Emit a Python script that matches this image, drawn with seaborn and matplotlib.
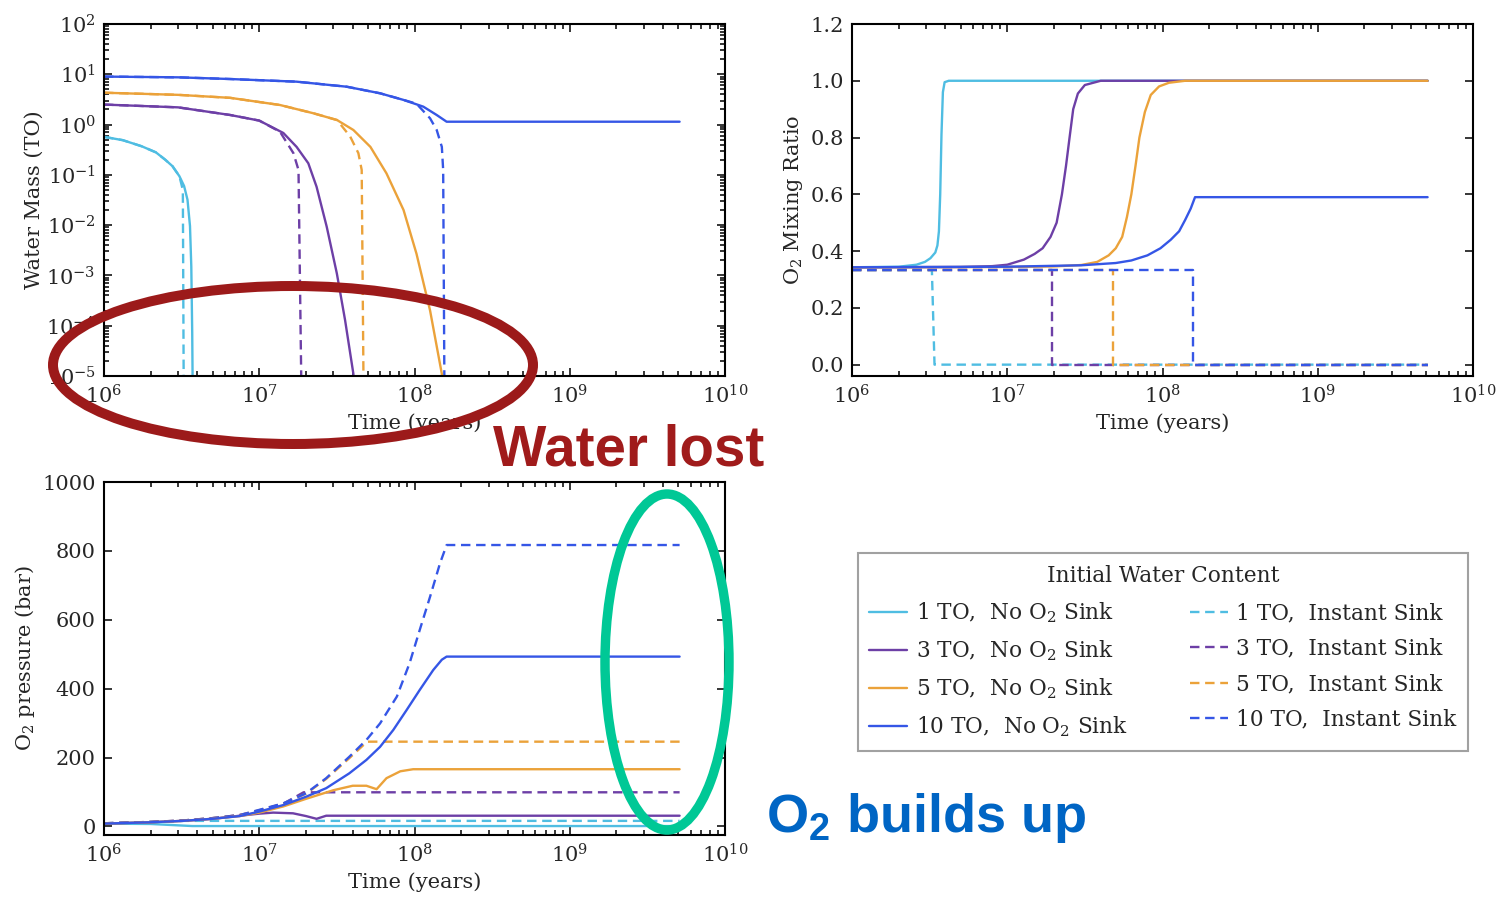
import numpy as np
import pandas as pd
import matplotlib
matplotlib.use("Agg")
import matplotlib.pyplot as plt
import matplotlib.ticker as mticker
from matplotlib.patches import Ellipse
import seaborn as sns

# ---------------- data ----------------
labels_water = ["1 TO", "3 TO", "5 TO", "10 TO"]
colors = ["#4FBDE2", "#6D3FA6", "#EBA23A", "#3556E6"]

# Panel 1: Water mass (TO), no O2 sink (solid)
wm_t_1 = [1e6, 1.32e6, 1.75e6, 2.16e6, 2.48e6, 2.76e6, 3.06e6, 3.28e6, 3.45e6, 3.58e6, 3.65e6, 3.7e6, 3.72e6, 3.73e6]
wm_y_1 = [0.57, 0.49, 0.37, 0.28, 0.20, 0.149, 0.094, 0.06, 0.032, 9.6e-3, 1.5e-3, 7.3e-5, 1e-5, 1e-7]
wm_t_3 = [1e6, 3e6, 6.5e6, 1e7, 1.43e7, 1.74e7, 2.07e7, 2.34e7, 2.72e7, 3.16e7, 3.57e7, 4.04e7, 4.1e7]
wm_y_3 = [2.5, 2.2, 1.55, 1.2, 0.68, 0.36, 0.17, 0.058, 9.3e-3, 1.1e-3, 1.3e-4, 1.1e-5, 1e-7]
wm_t_5 = [1e6, 3e6, 6.5e6, 1.36e7, 2.23e7, 3.17e7, 4.04e7, 5.2e7, 6.6e7, 8.5e7, 1.03e8, 1.26e8, 1.5e8, 1.52e8]
wm_y_5 = [4.3, 3.9, 3.4, 2.45, 1.68, 1.23, 0.78, 0.36, 0.107, 0.02, 2.7e-3, 2.0e-4, 1.1e-5, 1e-7]
wm_t_10 = [1e6, 3e6, 6.5e6, 1.74e7, 3.66e7, 6e7, 8.5e7, 1.14e8, 1.39e8, 1.61e8, 5.1e9]
wm_y_10 = [9.0, 8.7, 8.05, 7.13, 5.66, 4.19, 3.09, 2.27, 1.55, 1.14, 1.14]
# Panel 1: Water mass (TO), instant sink (dashed)
wmd_t_1 = [1e6, 1.32e6, 1.75e6, 2.16e6, 2.48e6, 2.76e6, 3.06e6, 3.22e6, 3.28e6]
wmd_y_1 = [0.57, 0.49, 0.37, 0.28, 0.20, 0.149, 0.094, 0.05, 1e-7]
wmd_t_3 = [1e6, 3e6, 6.5e6, 1e7, 1.36e7, 1.66e7, 1.79e7, 1.9e7]
wmd_y_3 = [2.5, 2.2, 1.55, 1.2, 0.72, 0.27, 0.125, 1e-7]
wmd_t_5 = [1e6, 3e6, 6.5e6, 1.36e7, 2.23e7, 3.17e7, 3.85e7, 4.35e7, 4.57e7, 4.75e7]
wmd_y_5 = [4.3, 3.9, 3.4, 2.45, 1.68, 1.23, 0.58, 0.27, 0.125, 1e-7]
wmd_t_10 = [1e6, 3e6, 6.5e6, 1.74e7, 3.66e7, 6e7, 8.5e7, 1.03e8, 1.26e8, 1.39e8, 1.5e8, 1.53e8, 1.57e8]
wmd_y_10 = [9.0, 8.7, 8.05, 7.13, 5.66, 4.19, 3.09, 2.6, 1.33, 0.78, 0.36, 0.125, 1e-7]

# Panel 2: O2 mixing ratio, no sink (solid)
mr_t_1 = [1e6, 2e6, 2.6e6, 2.95e6, 3.2e6, 3.44e6, 3.55e6, 3.63e6, 3.7e6, 3.77e6, 3.85e6, 3.95e6, 4.2e6, 5.1e9]
mr_y_1 = [0.343, 0.345, 0.352, 0.362, 0.375, 0.395, 0.42, 0.47, 0.6, 0.81, 0.96, 0.995, 1.0, 1.0]
mr_t_3 = [1e6, 5e6, 8e6, 1e7, 1.28e7, 1.5e7, 1.69e7, 1.9e7, 2.08e7, 2.25e7, 2.39e7, 2.52e7, 2.66e7, 2.85e7, 3.16e7, 4e7, 5.1e9]
mr_y_3 = [0.343, 0.344, 0.347, 0.352, 0.37, 0.39, 0.41, 0.45, 0.5, 0.6, 0.70, 0.8, 0.9, 0.955, 0.985, 1.0, 1.0]
mr_t_5 = [1e6, 1e7, 2e7, 3e7, 3.8e7, 4.5e7, 5e7, 5.5e7, 5.9e7, 6.3e7, 6.7e7, 7.1e7, 7.7e7, 8.4e7, 9.5e7, 1.1e8, 1.4e8, 5.1e9]
mr_y_5 = [0.343, 0.344, 0.346, 0.351, 0.362, 0.385, 0.41, 0.45, 0.52, 0.6, 0.7, 0.8, 0.89, 0.95, 0.98, 0.993, 1.0, 1.0]
mr_t_10 = [1e6, 1e7, 3e7, 5e7, 6.3e7, 8e7, 9.7e7, 1.13e8, 1.28e8, 1.4e8, 1.52e8, 1.62e8, 5.1e9]
mr_y_10 = [0.343, 0.345, 0.35, 0.358, 0.367, 0.385, 0.41, 0.44, 0.47, 0.51, 0.55, 0.59, 0.59]
# Panel 2: O2 mixing ratio, instant sink (dashed)
mrd_t_1 = [1e6, 3.27e6, 3.4e6, 5.1e9]
mrd_y_1 = [0.333, 0.333, 0.0, 0.0]
mrd_t_3 = [1e6, 1.94e7, 1.94e7, 5.1e9]
mrd_y_3 = [0.333, 0.333, 0.0, 0.0]
mrd_t_5 = [1e6, 4.8e7, 4.8e7, 5.1e9]
mrd_y_5 = [0.333, 0.333, 0.0, 0.0]
mrd_t_10 = [1e6, 1.57e8, 1.57e8, 5.1e9]
mrd_y_10 = [0.333, 0.333, 0.0, 0.0]

# Panel 3: O2 pressure (bar), no sink (solid)
pr_t_1 = [1e6, 2e6, 3.7e6, 5.1e9]
pr_y_1 = [8, 7, 1, 1]
pr_t_3 = [1e6, 2e6, 3.2e6, 5e6, 7.5e6, 1e7, 1.23e7, 1.65e7, 2e7, 2.34e7, 2.7e7, 5.1e9]
pr_y_3 = [8, 12, 16, 22, 31, 37, 40, 38, 30, 22, 31, 31]
pr_t_5 = [1e6, 2e6, 3.2e6, 5e6, 7.5e6, 1e7, 1.43e7, 2e7, 3e7, 4e7, 4.9e7, 5.7e7, 6.6e7, 8.1e7, 9.8e7, 5.1e9]
pr_y_5 = [8, 12, 16, 22, 30, 40, 58, 80, 105, 118, 118, 108, 140, 160, 166, 166]
pr_t_10 = [1e6, 2e6, 3.2e6, 5e6, 7.5e6, 1e7, 1.43e7, 2e7, 2.7e7, 3.8e7, 4.9e7, 6e7, 7.3e7, 8.9e7, 1.08e8, 1.32e8, 1.5e8, 1.61e8, 5.1e9]
pr_y_10 = [8, 12, 16, 22, 30, 43, 62, 86, 111, 154, 193, 231, 280, 338, 396, 454, 484, 493, 493]
# Panel 3: O2 pressure (bar), instant sink (dashed)
prd_t_1 = [1e6, 2e6, 3.3e6, 5.1e9]
prd_y_1 = [9, 13, 16, 16]
prd_t_3 = [1e6, 2e6, 3.2e6, 5e6, 7.5e6, 1e7, 1.43e7, 1.93e7, 5.1e9]
prd_y_3 = [9, 13, 17, 24, 33, 46, 66, 99, 99]
prd_t_5 = [1e6, 2e6, 3.2e6, 5e6, 7.5e6, 1e7, 1.43e7, 2e7, 2.7e7, 3.8e7, 4.95e7, 5.1e9]
prd_y_5 = [9, 13, 17, 24, 33, 47, 66, 95, 138, 198, 246, 246]
prd_t_10 = [1e6, 2e6, 3.2e6, 5e6, 7.5e6, 1e7, 1.43e7, 2e7, 2.7e7, 3.8e7, 4.9e7, 6e7, 7.7e7, 9.3e7, 1.08e8, 1.26e8, 1.46e8, 1.61e8, 5.1e9]
prd_y_10 = [9, 13, 17, 24, 33, 48, 67, 96, 140, 202, 251, 299, 377, 474, 570, 667, 764, 817, 817]

x_ticks = [1e6, 1e7, 1e8, 1e9, 1e10]

# ---------------- style ----------------
sns.set_theme(style="ticks")
plt.rcParams["font.family"] = ["DejaVu Serif"]
plt.rcParams["mathtext.fontset"] = "dejavuserif"
plt.rcParams["lines.dashed_pattern"] = [4.0, 2.4]

W, H = 1497, 898
fig = plt.figure(figsize=(W / 100, H / 100), dpi=100)
fig.patch.set_facecolor("white")


def px_axes(left, top, right, bottom):
    return fig.add_axes([left / W, 1 - bottom / H, (right - left) / W, (bottom - top) / H])


ax1 = px_axes(104, 24, 725, 376)
ax2 = px_axes(852, 24, 1473, 376)
ax3 = px_axes(104, 482, 725, 835)

LW = 1.7
panels = [
    (ax1,
     [(wm_t_1, wm_y_1), (wm_t_3, wm_y_3), (wm_t_5, wm_y_5), (wm_t_10, wm_y_10)],
     [(wmd_t_1, wmd_y_1), (wmd_t_3, wmd_y_3), (wmd_t_5, wmd_y_5), (wmd_t_10, wmd_y_10)]),
    (ax2,
     [(mr_t_1, mr_y_1), (mr_t_3, mr_y_3), (mr_t_5, mr_y_5), (mr_t_10, mr_y_10)],
     [(mrd_t_1, mrd_y_1), (mrd_t_3, mrd_y_3), (mrd_t_5, mrd_y_5), (mrd_t_10, mrd_y_10)]),
    (ax3,
     [(pr_t_1, pr_y_1), (pr_t_3, pr_y_3), (pr_t_5, pr_y_5), (pr_t_10, pr_y_10)],
     [(prd_t_1, prd_y_1), (prd_t_3, prd_y_3), (prd_t_5, prd_y_5), (prd_t_10, prd_y_10)]),
]

legend_solid, legend_dash = [], []
for ax, solids, dashes in panels:
    for i, (t, y) in enumerate(dashes):
        sns.lineplot(x=t, y=y, ax=ax, color=colors[i], lw=LW, linestyle="--",
                     estimator=None, sort=False)
        if ax is ax2:
            legend_dash.append(ax.lines[-1])
    for i, (t, y) in enumerate(solids):
        sns.lineplot(x=t, y=y, ax=ax, color=colors[i], lw=LW, linestyle="-",
                     estimator=None, sort=False)
        if ax is ax2:
            legend_solid.append(ax.lines[-1])

for ax in (ax1, ax2, ax3):
    ax.set_xscale("log")
    ax.set_xlim(1e6, 1e10)
    ax.xaxis.set_major_locator(mticker.FixedLocator(x_ticks))
    ax.xaxis.set_minor_locator(mticker.LogLocator(base=10, subs=np.arange(2, 10), numticks=20))
    ax.xaxis.set_minor_formatter(mticker.NullFormatter())
    ax.set_xlabel("Time (years)", fontsize=15, labelpad=4)
    ax.tick_params(which="both", direction="in", top=True, right=True, labelsize=15,
                   color="black", width=1.1)
    ax.tick_params(which="major", length=6, pad=6)
    ax.tick_params(which="minor", length=3.5)
    for s in ax.spines.values():
        s.set_color("black")
        s.set_linewidth(1.5)

ax1.set_yscale("log")
ax1.set_ylim(1e-5, 1e2)
ax1.yaxis.set_major_locator(mticker.LogLocator(base=10, numticks=12))
ax1.yaxis.set_minor_locator(mticker.LogLocator(base=10, subs=np.arange(2, 10), numticks=12))
ax1.yaxis.set_minor_formatter(mticker.NullFormatter())
ax1.set_ylabel("Water Mass (TO)", fontsize=15, labelpad=2)

ax2.set_ylim(-0.04, 1.2)
ax2.set_yticks([0.0, 0.2, 0.4, 0.6, 0.8, 1.0, 1.2])
ax2.yaxis.set_major_formatter(mticker.FormatStrFormatter("%.1f"))
ax2.set_ylabel(r"$\mathdefault{O_2}$ Mixing Ratio", fontsize=15, labelpad=4)

ax3.set_ylim(-25, 1000)
ax3.set_yticks([0, 200, 400, 600, 800, 1000])
ax3.set_ylabel(r"$\mathdefault{O_2}$ pressure (bar)", fontsize=15, labelpad=4)

for ax in (ax1, ax2, ax3):
    lg = ax.get_legend()
    if lg is not None:
        lg.remove()

# ---------------- legend ----------------
handles = legend_solid + legend_dash
texts = [f"{w},  No " + r"$\mathdefault{O_2}$" + " Sink" for w in labels_water] + \
        [f"{w},  Instant Sink" for w in labels_water]
leg = fig.legend(handles, texts, ncol=2, title="Initial Water Content",
                 loc="center", bbox_to_anchor=(1163 / W, 1 - 652 / H),
                 fontsize=15.6, title_fontsize=15.6, frameon=True, fancybox=False,
                 edgecolor="#8a8a8a", handlelength=1.75, handletextpad=0.4,
                 columnspacing=2.85, labelspacing=0.62, borderpad=0.55)
leg.get_frame().set_linewidth(1.5)

# ---------------- annotations ----------------
ov = fig.add_axes([0, 0, 1, 1], zorder=10)
ov.set_xlim(0, W)
ov.set_ylim(H, 0)
ov.axis("off")
ov.patch.set_alpha(0)
ov.add_patch(Ellipse((293, 365), 480, 158, fill=False, edgecolor="#9C1A1A", lw=7.2))
ov.add_patch(Ellipse((667, 662), 124, 336, fill=False, edgecolor="#00C896", lw=6.8))
ov.text(493, 465, "Water lost", fontsize=40.7, fontweight="bold", color="#A01B1B",
        family="Liberation Sans", ha="left", va="baseline")
ov.text(766, 832, r"$\mathdefault{O_2}$ builds up", fontsize=39, fontweight="bold",
        color="#0065C4", family="Liberation Sans", ha="left", va="baseline")

fig.savefig("out.png", dpi=100, facecolor="white")
